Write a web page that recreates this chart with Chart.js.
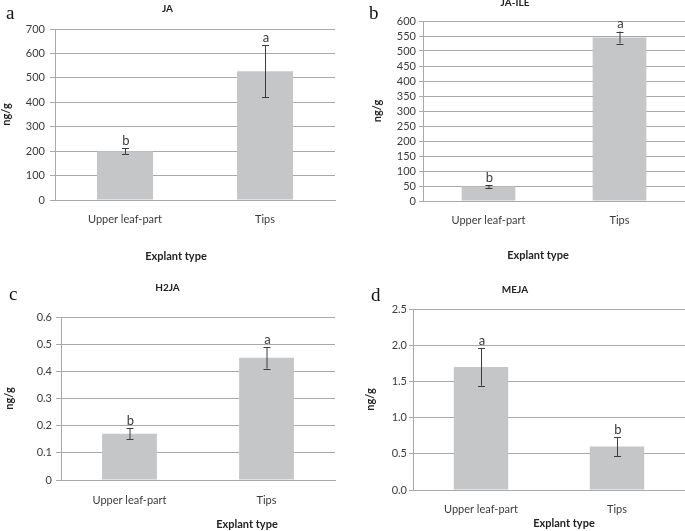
<!DOCTYPE html>
<html>
<head>
<meta charset="utf-8">
<script src="https://cdn.jsdelivr.net/npm/chart.js@4.4.0/dist/chart.umd.min.js"></script>
<style>
  html, body { margin:0; padding:0; background:#fff; overflow:hidden; }
  body { width:685px; height:531px; position:relative; }
  .pane { position:absolute; }
  .tag { position:absolute; font-family:"Liberation Serif","DejaVu Serif",serif; font-size:19px; color:#111; line-height:1; }
</style>
</head>
<body>
<div class="pane" style="left:0;top:0;"><canvas id="cA" width="345" height="270"></canvas></div>
<div class="pane" style="left:345px;top:-6px;"><canvas id="cB" width="340" height="276"></canvas></div>
<div class="pane" style="left:0;top:270px;"><canvas id="cC" width="345" height="261"></canvas></div>
<div class="pane" style="left:345px;top:270px;"><canvas id="cD" width="340" height="261"></canvas></div>
<div class="tag" style="left:6px;top:3px;">a</div>
<div class="tag" style="left:369px;top:3px;">b</div>
<div class="tag" style="left:9px;top:284px;">c</div>
<div class="tag" style="left:371px;top:285px;">d</div>
<script>
// ---- data ----
const categories = ['Upper leaf-part', 'Tips'];
const xAxisTitle = 'Explant type';
const yAxisTitle = 'ng/g';

const jaTitle = 'JA';
const jaValues = [200, 527];
const jaErrors = [12, 107];
const jaLetters = ['b', 'a'];
const jaAxis = [0, 700, 100];

const jaIleTitle = 'JA-ILE';
const jaIleValues = [48, 545];
const jaIleErrors = [4.5, 20];
const jaIleLetters = ['b', 'a'];
const jaIleAxis = [0, 600, 50];

const h2jaTitle = 'H2JA';
const h2jaValues = [0.17, 0.45];
const h2jaErrors = [0.02, 0.04];
const h2jaLetters = ['b', 'a'];
const h2jaAxis = [0, 0.6, 0.1];

const mejaTitle = 'MEJA';
const mejaValues = [1.7, 0.6];
const mejaErrors = [0.26, 0.13];
const mejaLetters = ['a', 'b'];
const mejaAxis = [0, 2.5, 0.5];

// ---- styling ----
const FONT = 'Lato, "Open Sans", "Liberation Sans", sans-serif';
const GRID = '#a9a9a9';
const BAR = '#c5c6c8';
const TXT = '#3a3a3a';

const errorBarPlugin = {
  id: 'errorBars',
  afterDatasetsDraw(chart) {
    const ctx = chart.ctx;
    const y = chart.scales.y;
    const ds = chart.data.datasets[0];
    const meta = chart.getDatasetMeta(0);
    meta.data.forEach((bar, i) => {
      const v = ds.data[i], e = ds.errors[i];
      const yTop = y.getPixelForValue(v + e);
      const yBot = y.getPixelForValue(v - e);
      const x = bar.x;
      ctx.save();
      ctx.strokeStyle = '#3c3c3c';
      ctx.lineWidth = 1;
      ctx.beginPath();
      ctx.moveTo(x + 0.5, yTop); ctx.lineTo(x + 0.5, yBot);
      ctx.moveTo(x - 3, Math.round(yTop) + 0.5); ctx.lineTo(x + 4, Math.round(yTop) + 0.5);
      ctx.moveTo(x - 3, Math.round(yBot) + 0.5); ctx.lineTo(x + 4, Math.round(yBot) + 0.5);
      ctx.stroke();
      ctx.fillStyle = TXT;
      ctx.font = '13px ' + FONT;
      ctx.textAlign = 'center';
      ctx.textBaseline = 'bottom';
      ctx.fillText(ds.letters[i], x + 1, yTop - 1);
      ctx.restore();
    });
  }
};

// x-axis title, placed like the original (offset from the plot centre)
const xTitlePlugin = {
  id: 'xTitle',
  afterDraw(chart, args, opts) {
    const ctx = chart.ctx;
    const ca = chart.chartArea;
    ctx.save();
    ctx.fillStyle = '#222';
    ctx.font = 'bold 11px ' + FONT;
    ctx.textAlign = 'center';
    ctx.textBaseline = 'middle';
    ctx.fillText(opts.text, (ca.left + ca.right) / 2 + opts.shift, opts.y);
    ctx.restore();
  }
};

function makeChart(id, p) {
  const [min, max, step] = p.axis;
  new Chart(document.getElementById(id), {
    type: 'bar',
    data: {
      labels: categories,
      datasets: [{
        data: p.values,
        errors: p.errors,
        letters: p.letters,
        backgroundColor: BAR,
        borderWidth: 0,
        barPercentage: p.barPct,
        categoryPercentage: 1.0
      }]
    },
    plugins: [errorBarPlugin, xTitlePlugin],
    options: {
      responsive: false,
      animation: false,
      devicePixelRatio: 1,
      layout: { padding: { left: 0, right: p.padRight, top: 0, bottom: 0 } },
      plugins: {
        legend: { display: false },
        tooltip: { enabled: false },
        title: {
          display: true, text: p.title, color: '#222',
          font: { family: FONT, size: 10, weight: 'bold', lineHeight: 1.2 },
          padding: { top: p.titleTop, bottom: p.titleBottom }
        },
        xTitle: { text: xAxisTitle, shift: p.xTitleShift, y: p.xTitleY }
      },
      scales: {
        x: {
          grid: { display: false, drawTicks: false },
          border: { display: true, color: GRID, width: 1 },
          ticks: { color: TXT, font: { family: FONT, size: 11 }, padding: p.xTickPad },
          title: { display: false },
          afterFit(s) { s.height = p.xHeight; }
        },
        y: {
          min: min, max: max,
          grid: { color: GRID, lineWidth: 1, drawTicks: true, tickLength: p.tickLen },
          border: { display: true, color: GRID, width: 1 },
          ticks: { stepSize: step, autoSkip: false, color: TXT, font: { family: FONT, size: 11 }, padding: p.yTickPad,
                   callback: v => p.decimals === undefined ? String(Number(Number(v).toFixed(4))) : Number(v).toFixed(p.decimals) },
          title: { display: true, text: yAxisTitle, color: '#222',
                   font: { family: FONT, size: 11, weight: 'bold', lineHeight: 1.2 },
                   padding: { top: p.yTitlePad, bottom: 0 } },
          afterFit(s) { s.width = p.yWidth; }
        }
      }
    }
  });
}

makeChart('cA', { title: jaTitle, values: jaValues, errors: jaErrors, letters: jaLetters, axis: jaAxis,
  barPct: 0.4, padRight: 10, titleTop: 3, titleBottom: 14, xHeight: 70, xTickPad: 13,
  xTitleShift: -19, xTitleY: 256,
  yWidth: 55, yTitlePad: 0, tickLen: 5, yTickPad: 5 });

makeChart('cB', { title: jaIleTitle, values: jaIleValues, errors: jaIleErrors, letters: jaIleLetters, axis: jaIleAxis,
  barPct: 0.41, padRight: 0, titleTop: 3, titleBottom: 12, xHeight: 69, xTickPad: 13,
  xTitleShift: -16, xTitleY: 261,
  yWidth: 78, yTitlePad: 26, tickLen: 4, yTickPad: 3 });

makeChart('cC', { title: h2jaTitle, values: h2jaValues, errors: h2jaErrors, letters: h2jaLetters, axis: h2jaAxis,
  barPct: 0.4, padRight: 10, titleTop: 12, titleBottom: 23, xHeight: 51, xTickPad: 14,
  xTitleShift: 49, xTitleY: 254,
  yWidth: 61, yTitlePad: 3, tickLen: 5, yTickPad: 4 });

makeChart('cD', { title: mejaTitle, values: mejaValues, errors: mejaErrors, letters: mejaLetters, axis: mejaAxis,
  barPct: 0.4, padRight: 0, titleTop: 14, titleBottom: 13, xHeight: 41, xTickPad: 13,
  xTitleShift: 15, xTitleY: 253,
  yWidth: 68, yTitlePad: 19, tickLen: 4, yTickPad: 2, decimals: 1 });
</script>
</body>
</html>
